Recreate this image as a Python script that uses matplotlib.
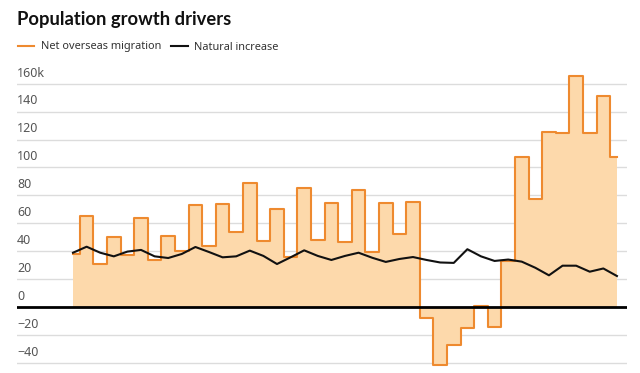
import numpy as np
import matplotlib.pyplot as plt
import matplotlib.transforms as mtransforms
from matplotlib.lines import Line2D

plt.rcParams['font.family'] = ['Noto Sans', 'DejaVu Sans']

# quarterly values, thousands of people
migration = [38, 65.5, 30.8, 50.4, 37.3, 64, 33.7, 50.9, 40, 73.4,
             44, 74, 54, 89, 47.5, 70, 36, 85.5, 48, 74.3,
             46.4, 83.9, 39.2, 74.8, 52, 75.5, -7.6, -41.6, -27, -15,
             1, -14, 33, 107.3, 77.2, 125.6, 125, 165.6, 124.5, 151.5,
             107.7]
natural = [38.9, 43.2, 38.9, 36.3, 39.7, 40.9, 36.3, 35.1, 38, 43,
           39.4, 35.6, 36.3, 40.4, 36.6, 30.8, 35.6, 40.6, 36.6, 33.7,
           36.6, 38.9, 35.3, 32.3, 34.4, 35.8, 33.7, 31.9, 31.6, 41.4,
           36.3, 33, 34, 32.5, 28.1, 22.7, 29.6, 29.6, 25.3, 27.6,
           22.2]
yticks = [-40, -20, 0, 20, 40, 60, 80, 100, 120, 140, 160]

orange = '#ee8a2f'
fill_col = '#fdd9ab'
grey_text = '#555555'

x = np.arange(len(migration))

fig = plt.figure(figsize=(6.4, 3.73), dpi=100)
ax = fig.add_axes([17 / 640, 0, 610 / 640, 313 / 373])

for v in yticks:
    if v != 0:
        ax.axhline(v, color='#dcdcdc', lw=1, zorder=0)

ax.fill_between(x, migration, 0, step='mid', color=fill_col, lw=0, zorder=1)
ax.step(x, migration, where='mid', color=orange, lw=1.5, zorder=2)
ax.plot(x, natural, color='#111111', lw=1.5, zorder=3)
ax.axhline(0, color='black', lw=2, zorder=4)

ax.set_xlim(-4.12, 40.74)
ax.set_ylim(-47.3, 177)
ax.axis('off')

offset = mtransforms.offset_copy(ax.get_yaxis_transform(), fig=fig, x=0, y=3, units='points')
for v in yticks:
    lab = str(v).replace('-', '\u2212')
    if v == 160:
        lab = '160k'
    ax.text(0, v, lab, transform=offset, ha='left', va='bottom',
            fontsize=9, color=grey_text)

fig.text(17 / 640, 1 - 20 / 373, 'Population growth drivers', fontsize=13.2,
         fontweight='bold', family='Lato', color='#111111', ha='left', va='center')

handles = [Line2D([], [], color=orange, lw=1.5),
           Line2D([], [], color='#111111', lw=1.5)]
fig.legend(handles, ['Net overseas migration', 'Natural increase'],
           loc='center left', bbox_to_anchor=(8 / 640, 1 - 47 / 373),
           ncol=2, frameon=False, fontsize=7.9, handlelength=1.5,
           handletextpad=0.6, columnspacing=0.9, labelcolor='#333333')

fig.savefig('out.png', dpi=100)
